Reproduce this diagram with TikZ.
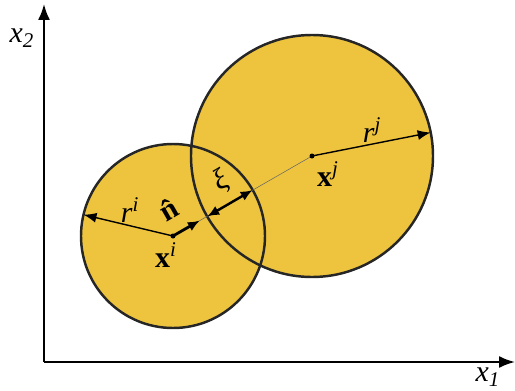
\documentclass[tikz,border=0pt]{standalone}
\usepackage{fontspec}
\setmainfont{Liberation Serif}
\usetikzlibrary{arrows.meta,calc}
\definecolor{grain}{RGB}{238,196,62}
\tikzset{
  axis/.style={line width=1.1pt, -{Latex[length=0.32cm,width=0.24cm]}},
  disc/.style={fill=grain, draw=black!85, line width=1.4pt},
  radius/.style={line width=0.8pt, -{Latex[length=0.26cm,width=0.2cm]}},
  lbl/.style={font=\fontsize{17}{19}\selectfont, inner sep=1pt}
}
\begin{document}
\begin{tikzpicture}[x=0.02cm, y=0.02cm]
    \useasboundingbox (0,0) rectangle (515,390);

    % Centres
    \coordinate (ci) at (173,154);
    \coordinate (cj) at (312,234);

    % Discs
    \fill[grain] (cj) circle (121);
    \fill[grain] (ci) circle (92);
    \draw[disc, fill=none] (cj) circle (121);
    \draw[disc, fill=none] (ci) circle (92);

    % Axes
    \coordinate (origin) at (44,28);
    \coordinate (ytop) at (44,386);
    \coordinate (xend) at (515,28);
    \draw[axis] (origin) -- (ytop);
    \draw[axis] (origin) -- (xend);
    \node[lbl] (xtwo) at (22,352) {\textit{x}\textsubscript{\textit{2}}};
    \node[lbl] (xone) at (488,13) {\textit{x}\textsubscript{\textit{1}}};

    % Line of centres
    \draw[black!60, line width=0.3pt] (ci) -- (cj);
    \fill (ci) circle (2.5);
    \fill (cj) circle (2.5);

    % Radii
    \coordinate (riend) at ($(ci)+(166.6:92)$);
    \coordinate (rjend) at ($(cj)+(11.2:121)$);
    \draw[radius] (ci) -- (riend);
    \draw[radius] (cj) -- (rjend);

    % Normal vector
    \coordinate (nend) at ($(ci)+(30:31)$);
    \draw[line width=1.6pt, -{Latex[length=0.24cm,width=0.2cm]}] (ci) -- (nend);

    % Overlap
    \coordinate (xia) at ($(cj)+(210:121)$);
    \coordinate (xib) at ($(ci)+(30:92)$);
    \draw[line width=1.4pt, {Latex[length=0.24cm,width=0.2cm]}-{Latex[length=0.24cm,width=0.2cm]}] (xia) -- (xib);

    % Labels
    \node[lbl] (ri) at (130,180) {\textit{r}\textsuperscript{\textit{i}}};
    \node[lbl, rotate=30] (nhat) at (171,182) {\textbf{n̂}};
    \node[lbl] (xi) at (166,135) {\textbf{x}\textsuperscript{\textit{i}}};
    \node[lbl, rotate=30] (xilbl) at (221,208) {\textit{ξ}};
    \node[lbl] (xj) at (328,216) {\textbf{x}\textsuperscript{\textit{j}}};
    \node[lbl] (rj) at (372,260) {\textit{r}\textsuperscript{\textit{j}}};
\end{tikzpicture}
\end{document}
